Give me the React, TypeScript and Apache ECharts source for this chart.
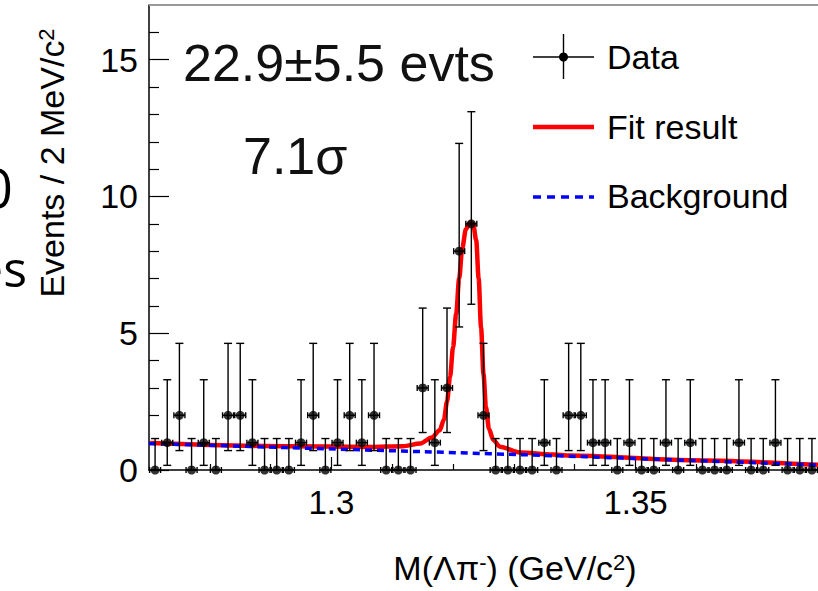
import React, { useEffect, useRef } from "react";
import * as echarts from "echarts";

// Histogram: Events / 2 MeV/c^2, first bin centred at 1.271 GeV/c^2
const firstBinCenter = 1.271;
const binWidth = 0.002;
const counts = [
  0, 1, 2, 0, 1, 0, 2, 2, 1, 0, 0,
  0, 1, 2, 0, 1, 2, 1, 2, 0, 0, 0,
  3, 1, 3, 8, 9, 2, 0, 0, 0, 0, 1,
  0, 2, 2, 1, 1, 0, 1, 0, 0, 1, 0,
  1, 0, 0, 0, 1, 0, 0, 1, 0, 0, 0,
];

// asymmetric (Poisson) error bars, per count value
const errCount = [0, 1, 2, 3, 8, 9];
const errLow = [0, 0.83, 1.29, 1.63, 2.77, 2.94];
const errHigh = [1.15, 2.3, 2.63, 2.92, 3.94, 4.1];

// fit result curve
const fitX = [1.2702, 1.2924, 1.3063, 1.3118, 1.3146, 1.3165, 1.3178, 1.3185, 1.319, 1.3195, 1.32, 1.3205, 1.321, 1.3215, 1.3221, 1.3228, 1.3233, 1.3238, 1.3242, 1.3246, 1.325, 1.3254, 1.3259, 1.3266, 1.3277, 1.331, 1.3364, 1.3392, 1.3589, 1.38];
const fitY = [0.99, 0.87, 0.84, 0.87, 0.97, 1.19, 1.45, 1.85, 2.5, 3.4, 4.5, 5.7, 7.0, 8.1, 8.8, 9.05, 9.0, 8.4, 7.0, 5.2, 3.5, 2.3, 1.5, 1.1, 0.85, 0.64, 0.57, 0.53, 0.36, 0.19];

// background curve
const bkgX = [1.27, 1.2925, 1.315, 1.337, 1.359, 1.38];
const bkgY = [0.97, 0.82, 0.67, 0.52, 0.35, 0.18];

const xMajorTicks = [1.3, 1.35];
const xMinorTicks = [1.28, 1.29, 1.31, 1.32, 1.33, 1.34, 1.36, 1.37];
const yMajorTicks = [0, 5, 10, 15];
const yMinorTicks = [1, 2, 3, 4, 6, 7, 8, 9, 11, 12, 13, 14, 16];

const FONT = "Liberation Sans, Arial, Helvetica, sans-serif";

export default function App() {
  const ref = useRef<HTMLDivElement>(null);
  useEffect(() => {
    if (!ref.current) return;
    const chart = echarts.init(ref.current, undefined, { renderer: "svg" });

    const points = counts.map((c, i) => {
      const x = +(firstBinCenter + binWidth * i).toFixed(3);
      const k = errCount.indexOf(c);
      return [x, c, errLow[k], errHigh[k]];
    });

    const left = 149;
    const top = 5;
    const bottom = 121;

    const option: any = {
      animation: false,
      grid: { left, top, right: 0, bottom, containLabel: false },
      xAxis: [
        {
          type: "value",
          min: 1.27,
          max: 1.38,
          axisLine: { show: true, lineStyle: { color: "#000", width: 1.5 } },
          axisTick: { show: true, inside: true, length: 13, customValues: xMajorTicks, lineStyle: { color: "#000", width: 1.2 } },
          axisLabel: { customValues: xMajorTicks, fontSize: 33, color: "#000", fontFamily: FONT, margin: 16 },
          splitLine: { show: false },
        },
        {
          type: "value",
          min: 1.27,
          max: 1.38,
          position: "bottom",
          axisLine: { show: false },
          axisTick: { show: true, inside: true, length: 6, customValues: xMinorTicks, lineStyle: { color: "#000", width: 1.2 } },
          axisLabel: { show: false },
          splitLine: { show: false },
        },
      ],
      yAxis: [
        {
          type: "value",
          min: 0,
          max: 17,
          axisLine: { show: true, lineStyle: { color: "#000", width: 1.5 } },
          axisTick: { show: true, inside: true, length: 20, customValues: yMajorTicks, lineStyle: { color: "#000", width: 1.2 } },
          axisLabel: { customValues: yMajorTicks, fontSize: 34, color: "#000", fontFamily: FONT, margin: 11 },
          splitLine: { show: false },
        },
        {
          type: "value",
          min: 0,
          max: 17,
          position: "left",
          axisLine: { show: false },
          axisTick: { show: true, inside: true, length: 10, customValues: yMinorTicks, lineStyle: { color: "#000", width: 1.2 } },
          axisLabel: { show: false },
          splitLine: { show: false },
        },
      ],
      series: [
        {
          name: "Fit result",
          type: "line",
          data: fitX.map((x, i) => [x, fitY[i]]),
          smooth: 0.3,
          smoothMonotone: "x",
          showSymbol: false,
          lineStyle: { color: "#ff0000", width: 4.5 },
          z: 2,
        },
        {
          name: "Background",
          type: "line",
          data: bkgX.map((x, i) => [x, bkgY[i]]),
          smooth: 0.3,
          showSymbol: false,
          lineStyle: { color: "#0000ff", width: 3.5, type: [7, 5] },
          z: 3,
        },
        {
          name: "Data errors",
          type: "custom",
          data: points,
          z: 4,
          renderItem: (params: any, api: any) => {
            const x = api.value(0);
            const y = api.value(1);
            const lo = api.value(2);
            const hi = api.value(3);
            const c = api.coord([x, y]);
            const t = api.coord([x, y + hi]);
            const b = api.coord([x, y - lo]);
            const style = { stroke: "#000", lineWidth: 1.4 };
            const cap = 4;
            const hb = 5.5;
            const ht = 3;
            const children: any[] = [
              { type: "line", shape: { x1: c[0], y1: t[1], x2: c[0], y2: b[1] }, style },
              { type: "line", shape: { x1: c[0] - cap, y1: t[1], x2: c[0] + cap, y2: t[1] }, style },
              { type: "line", shape: { x1: c[0] - hb, y1: c[1], x2: c[0] + hb, y2: c[1] }, style },
              { type: "line", shape: { x1: c[0] - hb, y1: c[1] - ht, x2: c[0] - hb, y2: c[1] + ht }, style },
              { type: "line", shape: { x1: c[0] + hb, y1: c[1] - ht, x2: c[0] + hb, y2: c[1] + ht }, style },
            ];
            if (lo > 0) {
              children.push({ type: "line", shape: { x1: c[0] - cap, y1: b[1], x2: c[0] + cap, y2: b[1] }, style });
            }
            return { type: "group", children };
          },
        },
        {
          name: "Data",
          type: "scatter",
          data: points.map((p) => [p[0], p[1]]),
          symbol: "circle",
          symbolSize: 9,
          itemStyle: { color: "#000" },
          z: 5,
        },
      ],
      graphic: [
        // top frame
        { type: "line", shape: { x1: left, y1: top, x2: 818, y2: top }, style: { stroke: "#999", lineWidth: 2 }, z: 10 },
        // fragments of the neighbouring panel (cut off at the left edge, as in the reference)
        { type: "text", x: 13, y: 187, style: { text: "0", fontSize: 54, fontFamily: "Open Sans, sans-serif", fill: "#000", align: "right", verticalAlign: "middle" } },
        { type: "text", x: 27, y: 268, style: { text: "es", fontSize: 50, fontFamily: "Open Sans, sans-serif", fill: "#000", align: "right", verticalAlign: "middle" } },
        // annotations
        { type: "text", x: 183, y: 63, style: { text: "22.9\u00b15.5 evts", fontSize: 52, fontFamily: FONT, fill: "#111", align: "left", verticalAlign: "middle" }, z: 10 },
        { type: "text", x: 243, y: 156, style: { text: "7.1\u03c3", fontSize: 52, fontFamily: FONT, fill: "#111", align: "left", verticalAlign: "middle" }, z: 10 },
        // legend: Data
        { type: "line", shape: { x1: 533, y1: 57, x2: 594, y2: 57 }, style: { stroke: "#000", lineWidth: 1.4 }, z: 10 },
        { type: "line", shape: { x1: 563.5, y1: 34, x2: 563.5, y2: 79 }, style: { stroke: "#000", lineWidth: 1.4 }, z: 10 },
        { type: "circle", shape: { cx: 563.5, cy: 57, r: 4.5 }, style: { fill: "#000" }, z: 10 },
        { type: "text", x: 607, y: 57, style: { text: "Data", fontSize: 34, fontFamily: FONT, fill: "#000", align: "left", verticalAlign: "middle" }, z: 10 },
        // legend: Fit result
        { type: "line", shape: { x1: 533, y1: 127, x2: 594, y2: 127 }, style: { stroke: "#ff0000", lineWidth: 4.5 }, z: 10 },
        { type: "text", x: 607, y: 127, style: { text: "Fit result", fontSize: 34, fontFamily: FONT, fill: "#000", align: "left", verticalAlign: "middle" }, z: 10 },
        // legend: Background
        { type: "line", shape: { x1: 533, y1: 197, x2: 594, y2: 197 }, style: { stroke: "#0000ff", lineWidth: 3.5, lineDash: [8, 6] }, z: 10 },
        { type: "text", x: 607, y: 196, style: { text: "Background", fontSize: 34, fontFamily: FONT, fill: "#000", align: "left", verticalAlign: "middle" }, z: 10 },
        // axis titles
        {
          type: "text",
          x: 515,
          y: 568,
          style: {
            text: "M(\u039b\u03c0{sup|-}) (GeV/c{sup|2})",
            fontSize: 34,
            fontFamily: FONT,
            fill: "#000",
            align: "center",
            verticalAlign: "middle",
            rich: { sup: { fontSize: 22, fontFamily: FONT, verticalAlign: "top", fill: "#000" } },
          },
          z: 10,
        },
        {
          type: "text",
          x: 52,
          y: 163,
          rotation: Math.PI / 2,
          style: {
            text: "Events / 2 MeV/c{sup|2}",
            fontSize: 34,
            fontFamily: FONT,
            fill: "#000",
            align: "center",
            verticalAlign: "middle",
            rich: { sup: { fontSize: 22, fontFamily: FONT, verticalAlign: "top", fill: "#000" } },
          },
          z: 10,
        },
      ],
    };
    chart.setOption(option);
    return () => chart.dispose();
  }, []);

  return (
    <div
      ref={ref}
      style={{ position: "fixed", left: 0, top: 0, width: 818, height: 591, background: "#fff" }}
    />
  );
}
